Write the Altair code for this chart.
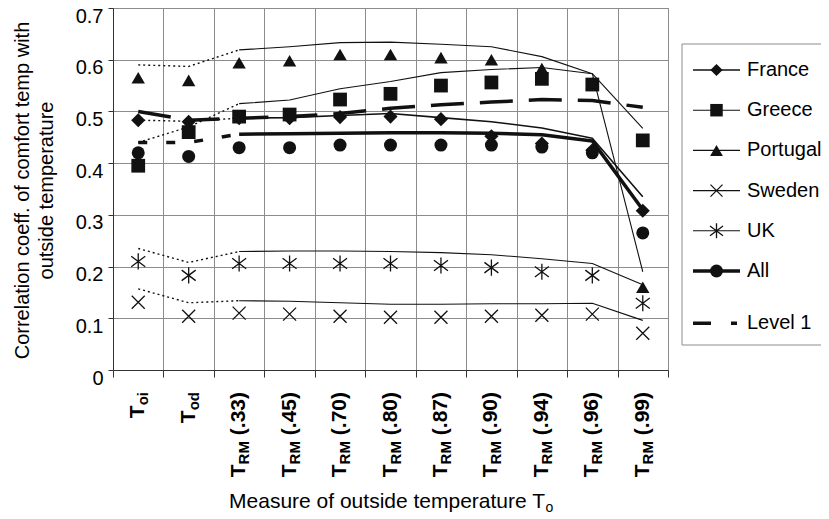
import altair as alt
import pandas as pd

# ---------------- data ----------------
categories = ["oi", "od", ".33", ".45", ".70", ".80", ".87", ".90", ".94", ".96", ".99"]
label_sub = ["oi", "od"] + ["RM"] * 9
label_suffix = ["", ""] + ["(" + c + ")" for c in categories[2:]]

series = ["France", "Greece", "Portugal", "Sweden", "UK", "All"]

# markers (correlation coefficients)
france_pts = [0.483, 0.480, 0.487, 0.487, 0.489, 0.490, 0.485, 0.452, 0.438, 0.425, 0.308]
greece_pts = [0.395, 0.460, 0.490, 0.494, 0.523, 0.534, 0.550, 0.556, 0.563, 0.552, 0.444]
portugal_pts = [0.565, 0.560, 0.594, 0.598, 0.610, 0.610, 0.604, 0.600, 0.583, 0.555, 0.160]
sweden_pts = [0.131, 0.104, 0.110, 0.108, 0.104, 0.102, 0.102, 0.104, 0.106, 0.108, 0.071]
uk_pts = [0.210, 0.183, 0.206, 0.206, 0.206, 0.206, 0.202, 0.198, 0.190, 0.183, 0.129]
all_pts = [0.420, 0.413, 0.430, 0.430, 0.435, 0.435, 0.435, 0.435, 0.431, 0.420, 0.265]

# accompanying lines
france_line = [0.483, 0.481, 0.487, 0.488, 0.492, 0.496, 0.488, 0.480, 0.468, 0.448, 0.335]
greece_line = [0.440, 0.470, 0.515, 0.522, 0.544, 0.558, 0.575, 0.581, 0.585, 0.573, 0.467]
portugal_line = [0.590, 0.587, 0.619, 0.625, 0.633, 0.634, 0.630, 0.625, 0.606, 0.573, 0.190]
sweden_line = [0.157, 0.130, 0.134, 0.133, 0.130, 0.127, 0.127, 0.128, 0.128, 0.129, 0.096]
uk_line = [0.235, 0.208, 0.229, 0.230, 0.230, 0.229, 0.227, 0.223, 0.215, 0.206, 0.165]
all_line = [0.440, 0.440, 0.456, 0.457, 0.458, 0.459, 0.459, 0.458, 0.455, 0.443, 0.310]
level1_line = [0.500, 0.483, 0.487, 0.490, 0.496, 0.506, 0.513, 0.518, 0.523, 0.521, 0.508]

legend_names = ["France", "Greece", "Portugal", "Sweden", "UK", "All", "Level 1"]

# ---------------- tables ----------------
n = len(categories)
FONT = "Liberation Sans"
INK = "#111111"
GRID = "#8c8c8c"

pts = pd.DataFrame(
    [{"series": s, "i": i, "value": v}
     for s, vals in zip(series, [france_pts, greece_pts, portugal_pts, sweden_pts, uk_pts, all_pts])
     for i, v in enumerate(vals)]
)
lines = pd.DataFrame(
    [{"series": s, "i": i, "value": v}
     for s, vals in zip(series + ["Level 1"],
                        [france_line, greece_line, portugal_line, sweden_line, uk_line, all_line, level1_line])
     for i, v in enumerate(vals)]
)
labels = pd.DataFrame({"i": list(range(n)), "sub": label_sub, "suffix": label_suffix})

legend_gap = [0, 0, 0, 0, 0, 0, 0.3]
legend_df = pd.DataFrame({"series": legend_names,
                          "rank": [k + g for k, g in enumerate(legend_gap)]})

# ---------------- encodings ----------------
x_enc = alt.X(
    "i:Q",
    scale=alt.Scale(domain=[-0.5, n - 0.5], nice=False, zero=False),
    axis=alt.Axis(values=[k - 0.5 for k in range(n + 1)], labels=False, title=None,
                  grid=True, gridColor=GRID, gridWidth=1, ticks=True, tickSize=7,
                  tickColor="#333", domainColor="#333"),
)
y_enc = alt.Y(
    "value:Q",
    scale=alt.Scale(domain=[0, 0.7], nice=False, zero=False),
    axis=alt.Axis(values=[round(k * 0.1, 1) for k in range(8)],
                  labelExpr="datum.value == 0 ? '0' : format(datum.value, '.1f')",
                  labelFontSize=20, labelFont=FONT, labelColor="black", labelPadding=5,
                  labelOffset=8,
                  tickSize=5, tickColor="#333", domainColor="#333",
                  grid=True, gridColor=GRID, gridWidth=1,
                  title=["Correlation coeff. of comfort temp with", "outside temperature"],
                  titleFontSize=20, titleFont=FONT, titleFontWeight="normal", titleColor="black",
                  titleAngle=270, titleAlign="center", titleBaseline="top",
                  titleX=-101, titleY=182, titleLineHeight=24),
)


def line_layer(names, width, part, dash=None):
    base = alt.Chart(lines).transform_filter(
        alt.FieldOneOfPredicate(field="series", oneOf=names))
    if part == "dot":
        base = base.transform_filter("datum.i <= 2")
    elif part == "solid":
        base = base.transform_filter("datum.i >= 2")
    kw = dict(color=INK, strokeWidth=width, strokeJoin="round")
    if dash:
        kw["strokeDash"] = dash
    return base.mark_line(**kw).encode(x=x_enc, y=y_enc, detail="series:N")


thin = ["Greece", "Portugal", "Sweden", "UK"]
layers = [
    line_layer(thin, 1.1, "solid"),
    line_layer(["France"], 1.6, "solid"),
    line_layer(thin + ["France"], 1.4, "dot", [2, 3]),
    line_layer(["All"], 3.5, "solid"),
    line_layer(["All"], 3.5, "dot", [9, 19]),
    line_layer(["Level 1"], 3.5, "all", [33, 16]),
]

X_PATH = "M-1,-1L1,1M-1,1L1,-1"
AST_PATH = "M-1,-0.75L1,0.75M-1,0.75L1,-0.75M0,-1.15L0,1.15"

filled_names = ["France", "Greece", "Portugal", "All"]
filled_shapes = ["diamond", "square", "triangle-up", "circle"]
open_names = ["Sweden", "UK"]
open_shapes = [X_PATH, AST_PATH]

layers.append(
    alt.Chart(pts).transform_filter(alt.FieldOneOfPredicate(field="series", oneOf=filled_names))
    .mark_point(filled=True, opacity=1, color=INK)
    .encode(x=x_enc, y=y_enc,
            shape=alt.Shape("series:N", scale=alt.Scale(domain=filled_names, range=filled_shapes), legend=None),
            size=alt.Size("series:N", scale=alt.Scale(domain=filled_names, range=[200, 169, 225, 400]), legend=None))
)
layers.append(
    alt.Chart(pts).transform_filter(alt.FieldOneOfPredicate(field="series", oneOf=open_names))
    .mark_point(filled=False, opacity=1, color=INK, strokeWidth=1.3)
    .encode(x=x_enc, y=y_enc,
            shape=alt.Shape("series:N", scale=alt.Scale(domain=open_names, range=open_shapes), legend=None),
            size=alt.Size("series:N", scale=alt.Scale(domain=open_names, range=[169, 196]), legend=None))
)

# ---------------- x tick labels (rotated, with subscripts) ----------------
LAB_Y = 384
W_PAREN = 43.2
W_SPACE = 5.9
W_RM = 23.3
W_OI = 13.3
W_OD = 18.3
txt = dict(angle=270, baseline="middle", font=FONT, fontWeight="bold", color="black")
lab = alt.Chart(labels)
layers += [
    lab.transform_filter("datum.i >= 2").mark_text(align="right", fontSize=21, dx=0, **txt)
    .encode(x=x_enc, y=alt.value(LAB_Y), text="suffix:N"),
    lab.transform_filter("datum.i >= 2").mark_text(align="right", fontSize=15, dx=-(W_PAREN + W_SPACE), dy=5, **txt)
    .encode(x=x_enc, y=alt.value(LAB_Y), text="sub:N"),
    lab.transform_filter("datum.i >= 2").mark_text(align="right", fontSize=21, dx=-(W_PAREN + W_SPACE + W_RM), text="T", **txt)
    .encode(x=x_enc, y=alt.value(LAB_Y)),
    lab.transform_filter("datum.i < 2").mark_text(align="right", fontSize=15, dx=0, dy=5, **txt)
    .encode(x=x_enc, y=alt.value(LAB_Y), text="sub:N"),
    lab.transform_filter("datum.i == 0").mark_text(align="right", fontSize=21, dx=-W_OI, text="T", **txt)
    .encode(x=x_enc, y=alt.value(LAB_Y)),
    lab.transform_filter("datum.i == 1").mark_text(align="right", fontSize=21, dx=-W_OD, text="T", **txt)
    .encode(x=x_enc, y=alt.value(LAB_Y)),
]

# x axis title with subscript
one = pd.DataFrame({"k": [0]})
TITLE_X = 432
TITLE_Y = 494
layers += [
    alt.Chart(one).mark_text(text="Measure of outside temperature T", align="right", baseline="middle",
                             fontSize=21, font=FONT, color="black")
    .encode(x=alt.value(TITLE_X), y=alt.value(TITLE_Y)),
    alt.Chart(one).mark_text(text="o", align="left", baseline="middle", dy=6,
                             fontSize=14, font=FONT, color="black")
    .encode(x=alt.value(TITLE_X + 0.5), y=alt.value(TITLE_Y)),
]

main = alt.layer(*layers).resolve_scale(shape="independent", size="independent")

# ---------------- legend ----------------
ly = alt.Y("rank:Q", scale=alt.Scale(domain=[0, 5], range=[62, 263], zero=False, nice=False), axis=None)
L_X1, L_X2, L_TX = 580, 627, 634
BOX_L, BOX_R, BOX_T, BOX_B = 569, 800, 36, 337


def leg_rule(names, width, dash=None, x2=L_X2):
    kw = dict(color=INK, strokeWidth=width)
    if dash:
        kw["strokeDash"] = dash
    return (alt.Chart(legend_df)
            .transform_filter(alt.FieldOneOfPredicate(field="series", oneOf=names))
            .mark_rule(**kw)
            .encode(x=alt.value(L_X1), x2=alt.value(x2), y=ly))


box = alt.Chart(one)
legend_layers = [
    box.mark_rule(color=GRID, strokeWidth=1)
    .encode(x=alt.value(BOX_L), x2=alt.value(BOX_R), y=alt.value(BOX_T)),
    box.mark_rule(color=GRID, strokeWidth=1)
    .encode(x=alt.value(BOX_L), x2=alt.value(BOX_R), y=alt.value(BOX_B)),
    box.mark_rule(color=GRID, strokeWidth=1)
    .encode(x=alt.value(BOX_L), y=alt.value(BOX_T), y2=alt.value(BOX_B)),
    leg_rule(thin, 1.1),
    leg_rule(["France"], 1.6),
    leg_rule(["All"], 3.5),
    leg_rule(["Level 1"], 3.5, [18, 20], x2=624),
    alt.Chart(legend_df).transform_filter(alt.FieldOneOfPredicate(field="series", oneOf=filled_names))
    .mark_point(filled=True, opacity=1, color=INK)
    .encode(x=alt.value((L_X1 + L_X2) / 2), y=ly,
            shape=alt.Shape("series:N", scale=alt.Scale(domain=filled_names, range=filled_shapes), legend=None),
            size=alt.Size("series:N", scale=alt.Scale(domain=filled_names, range=[150, 169, 196, 225]), legend=None)),
    alt.Chart(legend_df).transform_filter(alt.FieldOneOfPredicate(field="series", oneOf=open_names))
    .mark_point(filled=False, opacity=1, color=INK, strokeWidth=1.3)
    .encode(x=alt.value((L_X1 + L_X2) / 2), y=ly,
            shape=alt.Shape("series:N", scale=alt.Scale(domain=open_names, range=open_shapes), legend=None),
            size=alt.Size("series:N", scale=alt.Scale(domain=open_names, range=[144, 169]), legend=None)),
    alt.Chart(legend_df).mark_text(align="left", baseline="middle", fontSize=20, font=FONT, color="black")
    .encode(x=alt.value(L_TX), y=ly, text="series:N"),
]
legend = alt.layer(*legend_layers).resolve_scale(shape="independent", size="independent")

chart = (
    alt.layer(main, legend)
    .resolve_scale(y="independent", shape="independent", size="independent")
    .properties(width=555, height=362,
                autosize=alt.AutoSizeParams(type="none"),
                padding={"left": 105, "top": 0, "right": 153, "bottom": 149},
                background="white")
    .configure_view(stroke=GRID, strokeWidth=1)
)

chart.save("out.html", embed_options={"renderer": "svg", "actions": False})
